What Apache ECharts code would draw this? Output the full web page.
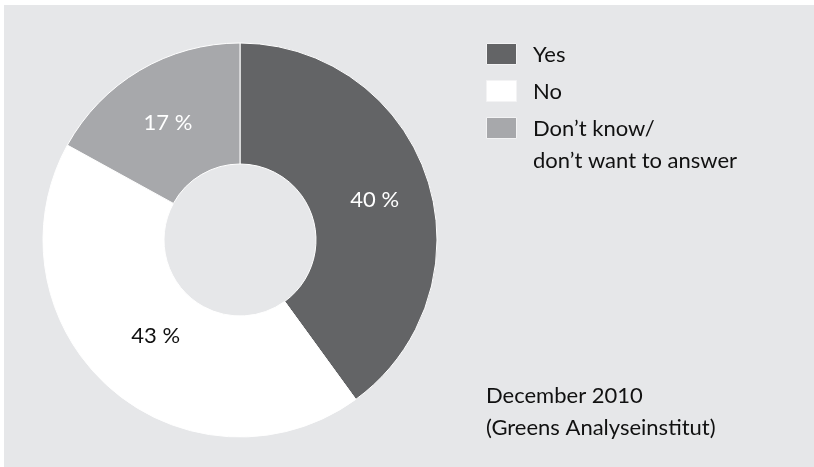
<!DOCTYPE html>
<html><head><meta charset="utf-8">
<script src="https://cdn.jsdelivr.net/npm/echarts@6/dist/echarts.min.js"></script>
<style>html,body{margin:0;padding:0;background:#fff;}#c{width:814px;height:467px;}</style>
</head><body><div id="c"></div>
<script>
const categories = ['Yes', 'No', 'Don\u2019t know/\ndon\u2019t want to answer'];
const values = [40, 43, 17];
const noteLines = ['December 2010', '(Greens Analyseinstitut)'];

// styling (not data)
const colors = ['#636466', '#ffffff', '#a7a8ab'];
const labelColors = ['#ffffff', '#111111', '#ffffff'];
const labelNudge = [[2, 3], [8, -9], [-1, 3]];

const FONT = 'Lato';
const chart = echarts.init(document.getElementById('c'), null, {renderer: 'canvas'});

const graphics = [{
  type: 'rect', left: 4, top: 5, z: -10,
  shape: {width: 810, height: 462},
  style: {fill: '#e6e7e9'}
}];
categories.forEach((name, i) => {
  const top = 43 + i * 37;
  graphics.push({type: 'rect', left: 486, top: top,
    shape: {width: 30, height: 21},
    style: {fill: colors[i], stroke: '#f3f3f4', lineWidth: 1}});
  graphics.push({type: 'text', left: 533, top: top - 4,
    style: {text: name, fill: '#111', fontFamily: FONT, fontSize: 22, lineHeight: 32}});
});
graphics.push({type: 'text', left: 486, top: 380,
  style: {text: noteLines.join('\n'), fill: '#111', fontFamily: FONT, fontSize: 22, lineHeight: 32}});

chart.setOption({
  animation: false,
  backgroundColor: '#ffffff',
  graphic: graphics,
  series: [{
    type: 'pie',
    center: [240, 240],
    radius: [76, 197],
    startAngle: 90,
    clockwise: true,
    silent: true,
    itemStyle: {borderColor: '#ffffff', borderWidth: 1},
    label: {show: true, position: 'inside', formatter: '{c} %', fontFamily: FONT, fontSize: 22},
    labelLine: {show: false},
    emphasis: {disabled: true},
    data: categories.map((n, i) => ({
      name: n, value: values[i],
      itemStyle: {color: colors[i]},
      label: {color: labelColors[i], offset: labelNudge[i]}
    }))
  }]
});
</script></body></html>
